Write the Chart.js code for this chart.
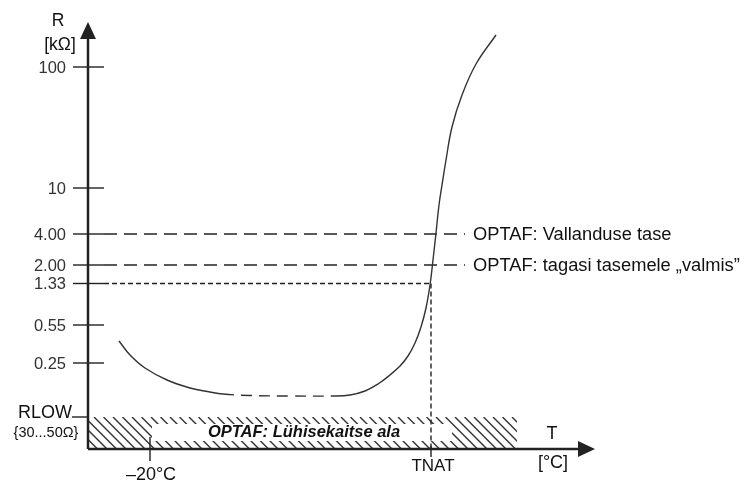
<!DOCTYPE html>
<html>
<head>
<meta charset="utf-8">
<script src="https://cdn.jsdelivr.net/npm/chart.js@4.4.1/dist/chart.umd.min.js"></script>
<style>
  html, body { margin: 0; background: #fff; }
  #wrap { width: 746px; height: 484px; }
</style>
</head>
<body>
<div id="wrap"><canvas id="c"></canvas></div>
<script>
// schematic diagram units (T across, R up)
const curveT = [3.1, 4.2, 5.7, 7.9, 10.2, 12.2, 13.5, 16.2, 20.2, 24.5, 26.2, 27.7, 29.0, 30.2, 31.2,
  32.0, 32.7, 33.3, 33.8, 34.2, 34.5, 34.8, 35.1, 35.4, 35.8, 36.4, 37.4, 38.8, 40.8];
const curveR = [10.8, 9.4, 8.1, 6.9, 6.1, 5.7, 5.5, 5.35, 5.3, 5.3, 5.4, 5.8, 6.5, 7.4, 8.3,
  9.3, 10.6, 12.2, 14.1, 16.4, 18.9, 21.6, 24.4, 26.4, 28.9, 32.2, 35.4, 38.5, 41.4];
const brokenFrom = 6, brokenTo = 9;   // the dashed middle of the curve

const yTickLabels = ['100', '10', '4.00', '2.00', '1.33', '0.55', '0.25'];
const yTickLevels = [38.2, 26.1, 21.5, 18.4, 16.55, 12.4, 8.6];
const rlowLevel = 3.2;
const xTickLabels = ['\u201320\u00b0C', 'TNAT'];
const xTickLevels = [6.2, 34.3];

const tripLevel = 21.5, resetLevel = 18.4, natLevel = 16.55;
const levelLineEnd = 37.7;
const tnat = 34.3;
const shortZoneEnd = 42.9;
const labelZone = [6.4, 36.4];

const xMax = 51.2, yMax = 42.7;
const font = '"Liberation Sans", Arial, sans-serif';
const ink = '#222';

function pts(xs, ys) { return xs.map((x, i) => ({ x, y: ys[i] })); }

const decor = {
  id: 'decor',
  beforeDatasetsDraw(chart) {
    const { ctx, scales: { x, y } } = chart;
    const x0 = x.getPixelForValue(0), x1 = x.getPixelForValue(shortZoneEnd);
    const yt = y.getPixelForValue(rlowLevel), yb = y.getPixelForValue(0);
    ctx.save();
    ctx.beginPath();
    ctx.rect(x0, yt, x1 - x0, yb - yt);
    ctx.clip();
    ctx.strokeStyle = '#333';
    ctx.lineWidth = 1.4;
    const h = yb - yt;
    for (let px = x0 - h; px < x1; px += 9.5) {
      ctx.beginPath();
      ctx.moveTo(px, yt);
      ctx.lineTo(px + h, yb);
      ctx.stroke();
    }
    ctx.restore();
    // white label box
    const bx0 = x.getPixelForValue(labelZone[0]), bx1 = x.getPixelForValue(labelZone[1]);
    ctx.save();
    ctx.fillStyle = '#fff';
    ctx.fillRect(bx0, yt + 7, bx1 - bx0, 17);
    ctx.fillStyle = '#111';
    ctx.font = 'italic bold 16.5px ' + font;
    ctx.textAlign = 'center';
    ctx.textBaseline = 'middle';
    ctx.fillText('OPTAF: L\u00fchisekaitse ala', 304, yt + 15.5);
    ctx.restore();
  },
  afterDatasetsDraw(chart) {
    const { ctx, scales: { x, y } } = chart;
    const ax = x.getPixelForValue(0), ay = y.getPixelForValue(0);
    const top = y.getPixelForValue(yMax), right = x.getPixelForValue(xMax);
    ctx.save();
    ctx.strokeStyle = ink;
    ctx.fillStyle = ink;
    // axes
    ctx.lineWidth = 2.5;
    ctx.beginPath();
    ctx.moveTo(ax, ay);
    ctx.lineTo(ax, top + 14);
    ctx.moveTo(ax, ay);
    ctx.lineTo(right - 14, ay);
    ctx.stroke();
    ctx.beginPath();
    ctx.moveTo(ax, top);
    ctx.lineTo(ax - 8, top + 17);
    ctx.lineTo(ax + 8, top + 17);
    ctx.closePath();
    ctx.fill();
    ctx.beginPath();
    ctx.moveTo(right - 5, ay);
    ctx.lineTo(right - 22, ay - 8);
    ctx.lineTo(right - 22, ay + 8);
    ctx.closePath();
    ctx.fill();

    // y ticks
    ctx.lineWidth = 1.4;
    ctx.font = '16.5px ' + font;
    ctx.textAlign = 'right';
    ctx.textBaseline = 'middle';
    yTickLevels.forEach((v, i) => {
      const py = y.getPixelForValue(v);
      ctx.beginPath();
      ctx.moveTo(ax - 15, py);
      ctx.lineTo(ax + 16, py);
      ctx.stroke();
      ctx.fillStyle = '#333';
      ctx.fillText(yTickLabels[i], ax - 22, py + 1);
    });
    const pr = y.getPixelForValue(rlowLevel);
    ctx.beginPath();
    ctx.moveTo(ax - 16, pr);
    ctx.lineTo(ax, pr);
    ctx.stroke();
    ctx.fillStyle = '#111';
    ctx.font = '18px ' + font;
    ctx.fillText('RLOW', ax - 16, pr - 4);
    ctx.font = '14.5px ' + font;
    ctx.textAlign = 'center';
    ctx.fillText('{30...50\u03a9}', 46, pr + 16);

    // x ticks
    ctx.lineWidth = 1.4;
    xTickLevels.forEach((v, i) => {
      const px = x.getPixelForValue(v);
      ctx.beginPath();
      ctx.moveTo(px, i === 0 ? ay - 12 : ay - 3);
      ctx.lineTo(px, ay + (i === 0 ? 12 : 8));
      ctx.stroke();
    });
    ctx.fillStyle = '#111';
    ctx.textAlign = 'center';
    ctx.font = '18px ' + font;
    ctx.fillText(xTickLabels[0], x.getPixelForValue(xTickLevels[0]) + 1, ay + 26);
    ctx.font = '17px ' + font;
    ctx.fillText(xTickLabels[1], x.getPixelForValue(xTickLevels[1]) + 2, ay + 17);

    // axis titles
    ctx.font = '17.5px ' + font;
    ctx.fillText('R', 58, 21);
    ctx.fillText('[k\u03a9]', 60, 45);
    ctx.font = '18px ' + font;
    ctx.fillText('T', 552, 434);
    ctx.fillText('[\u00b0C]', 553, 463);

    // level notes
    ctx.textAlign = 'left';
    ctx.font = '18.3px ' + font;
    ctx.fillText('OPTAF: Vallanduse tase', 473, y.getPixelForValue(tripLevel) + 1);
    ctx.fillText('OPTAF: tagasi tasemele \u201evalmis\u201d', 473, y.getPixelForValue(resetLevel) + 1);
    ctx.restore();
  }
};

const levelStyle = { borderColor: ink, borderWidth: 1.4, pointRadius: 0, fill: false };

new Chart(document.getElementById('c'), {
  type: 'line',
  data: {
    datasets: [
      {
        data: pts(curveT, curveR),
        borderColor: '#333',
        borderWidth: 1.4,
        pointRadius: 0,
        tension: 0.4,
        segment: {
          borderDash: c => (c.p0DataIndex >= brokenFrom && c.p1DataIndex <= brokenTo) ? [11, 7] : undefined,
        },
      },
      { ...levelStyle, data: pts([1.6, levelLineEnd], [tripLevel, tripLevel]), borderDash: [13, 7] },
      { ...levelStyle, data: pts([1.6, levelLineEnd], [resetLevel, resetLevel]), borderDash: [13, 7] },
      { ...levelStyle, data: pts([1.6, tnat - 0.1], [natLevel, natLevel]), borderDash: [5, 3] },
      { ...levelStyle, data: pts([tnat, tnat], [natLevel, 0]), borderDash: [5, 3] },
    ],
  },
  options: {
    responsive: true,
    maintainAspectRatio: false,
    animation: false,
    events: [],
    layout: { padding: { left: 88, right: 146, top: 22, bottom: 35 } },
    plugins: { legend: { display: false }, tooltip: { enabled: false } },
    scales: {
      x: { type: 'linear', min: 0, max: xMax, display: false },
      y: { type: 'linear', min: 0, max: yMax, display: false },
    },
  },
  plugins: [decor],
});
</script>
</body>
</html>
